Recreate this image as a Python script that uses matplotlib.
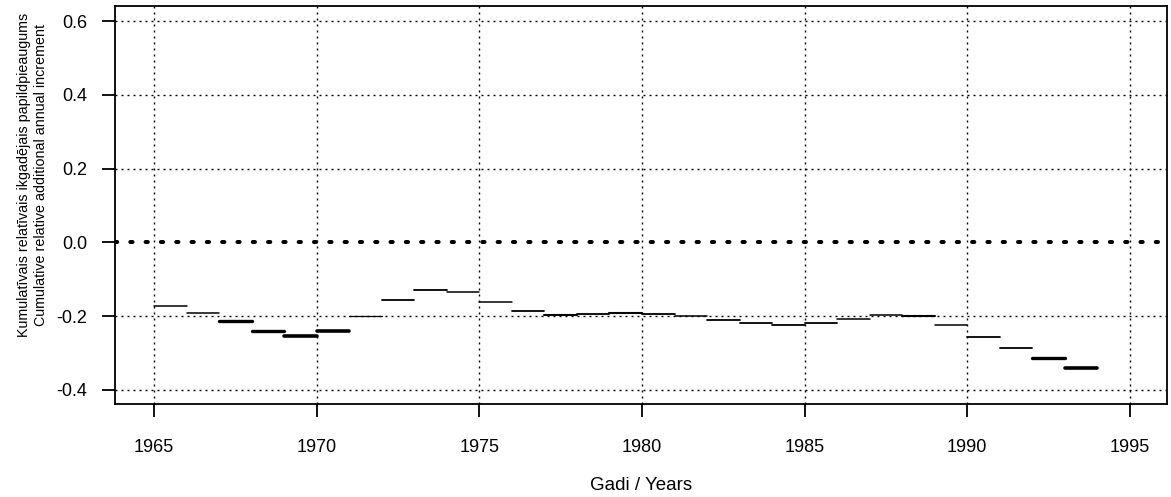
import numpy as np
import matplotlib
matplotlib.use("Agg")
import matplotlib.pyplot as plt

plt.rcParams['font.family'] = ['Liberation Sans', 'DejaVu Sans']

# cumulative relative additional annual increment, one segment per year
values = [-0.172, -0.192, -0.214, -0.240, -0.254, -0.242, -0.200, -0.156, -0.129, -0.134,
          -0.161, -0.187, -0.196, -0.194, -0.192, -0.194, -0.201, -0.211, -0.220, -0.224,
          -0.220, -0.209, -0.198, -0.201, -0.224, -0.256, -0.288, -0.314, -0.342]
years = np.arange(1965, 1965 + len(values))
# segment line widths (pt)
widths = [1.1, 1.1, 2.4, 2.4, 2.6, 2.6, 0.9, 1.3, 1.3, 1.1,
          1.1, 1.3, 1.5, 1.3, 1.5, 1.3, 1.1, 1.3, 1.3, 1.3,
          1.3, 1.1, 1.1, 1.5, 1.1, 1.3, 1.3, 2.4, 2.6]

fig = plt.figure(figsize=(11.71, 4.97), dpi=100)
ax = fig.add_axes([114.7 / 1171, 1 - 404 / 497, 1052 / 1171, 398 / 497])

# grid
grid_kw = dict(color='black', lw=1.0, linestyle=(0, (1.44, 2.88)), zorder=1)
for gx in range(1965, 1996, 5):
    ax.axvline(gx, **grid_kw)
for gy in [-0.4, -0.2, 0.2, 0.4, 0.6]:
    ax.axhline(gy, **grid_kw)
ax.axhline(0, color='black', lw=2.9, linestyle=(0, (0.55, 3.25)),
           dash_capstyle='round', zorder=2)

ax.hlines(values, years, years + 1, colors='black', linewidths=widths,
          capstyle='round', zorder=3)

ax.set_xlim(1963.79, 1996.13)
ax.set_ylim(-0.4388, 0.6415)
ax.set_xticks(range(1965, 1996, 5))
ax.set_yticks([-0.4, -0.2, 0.0, 0.2, 0.4, 0.6])
ax.set_yticklabels(['-0.4', '-0.2', '0.0', '0.2', '0.4', '0.6'])
ax.tick_params(direction='out', length=9.5, width=1.3, labelsize=13, pad=10)
ax.tick_params(axis='x', pad=15.5)
for s in ax.spines.values():
    s.set_linewidth(1.3)

ax.set_xlabel('Gadi / Years', fontsize=13.5, labelpad=15.5)
ax.set_ylabel('Kumulatīvais relatīvais ikgadējais papildpieaugums\n'
              'Cumulative relative additional annual increment',
              fontsize=10.3, linespacing=1.3)
ax.yaxis.set_label_coords(-0.0634, 0.575)

fig.savefig('out.png', dpi=100)
